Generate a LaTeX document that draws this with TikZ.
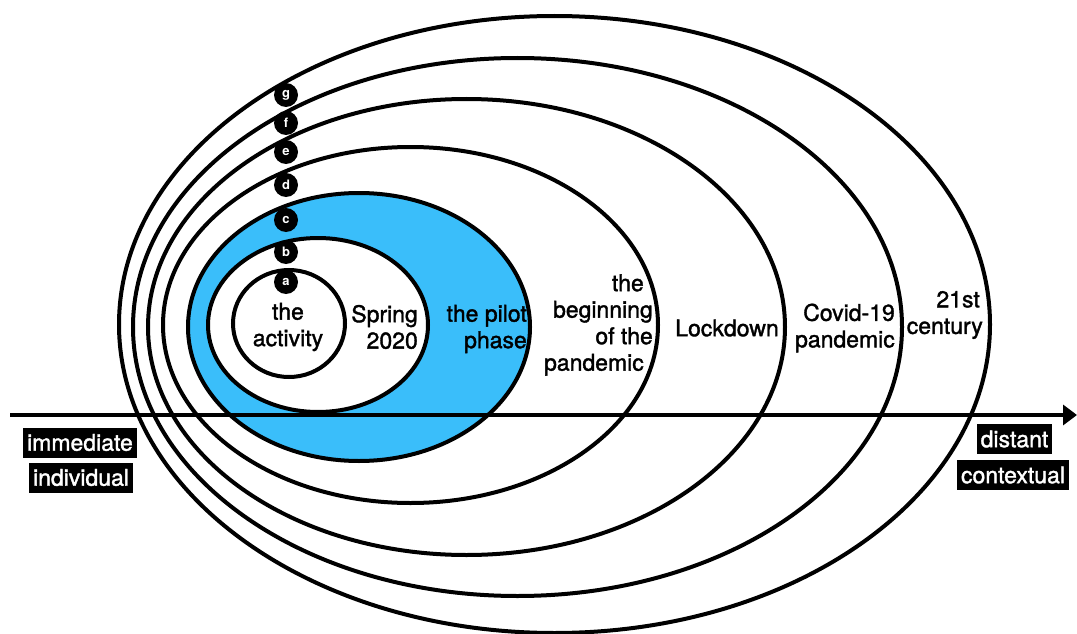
\documentclass[tikz,border=0pt]{standalone}
\usepackage{fontspec}
\setmainfont{TeX Gyre Heros}
\newfontfamily\medfont{TeX Gyre Heros}[FakeBold=1.5]
\usetikzlibrary{shapes.geometric,arrows.meta}
\definecolor{pilotblue}{RGB}{58,190,250}
\begin{document}
\begin{tikzpicture}[x=1pt,y=-1pt,
  ring/.style={draw, line width=4pt, ellipse, inner sep=0pt},
  badge/.style={circle, fill=black, text=white, minimum size=24pt, inner sep=0pt, font=\fontsize{13}{13}\selectfont\bfseries},
  lbl/.style={font=\medfont\fontsize{23}{26.5}\selectfont, inner sep=0pt},
  tag/.style={fill=black, text=white, font=\medfont\fontsize{23}{26.5}\selectfont, inner xsep=4pt, inner ysep=0pt, minimum height=30pt}]
\useasboundingbox (0,0) rectangle (1077,634);
% rings
\node[ring, minimum width=871pt, minimum height=617pt] (eg) at (554.5,324.5) {};
\node[ring, minimum width=769pt, minimum height=538pt] (ef) at (517.5,327) {};
\node[ring, minimum width=637pt, minimum height=456pt] (ee) at (466.5,327) {};
\node[ring, minimum width=495pt, minimum height=356pt] (ed) at (410.5,325) {};
\node[ring, fill=pilotblue, minimum width=342pt, minimum height=268pt] (ec) at (359,327) {};
\node[ring, fill=white, minimum width=220pt, minimum height=174pt] (eb) at (318,325) {};
\node[ring, minimum width=112pt, minimum height=107pt] (ea) at (289,323.5) {};
% axis
\coordinate (axL) at (10,415);
\coordinate (axR) at (1077,415);
\draw[line width=4pt, -{Triangle[length=14pt,width=20pt]}] (axL) -- (axR);
% labels
\node[lbl, align=center] (tact) at (288,327) {the\\activity};
\node[lbl, align=right, anchor=east] (tspr) at (418,327) {Spring\\2020};
\node[lbl, align=right, anchor=east] (tpil) at (527,329) {the pilot\\phase};
\node[lbl, align=right, anchor=east] (tbeg) at (653,325) {the\kern9pt\\beginning\\of the\\pandemic\kern9pt};
\node[lbl] (tlock) at (727,328) {Lockdown};
\node[lbl, align=right, anchor=east] (tcov) at (895,328) {Covid-19\\pandemic};
\node[lbl, align=right, anchor=east] (tcen) at (983,315) {21st\kern3pt\\century};
% tags
\node[tag] (timm) at (80,442.5) {immediate};
\node[tag] (tind) at (81,477.5) {individual};
\node[tag] (tdis) at (1014.5,439) {distant};
\node[tag] (tcon) at (1013,475) {contextual};
% badges
\node[badge] (bg) at (286,95) {g};
\node[badge] (bf) at (286,123) {f};
\node[badge] (be) at (286,152) {e};
\node[badge] (bd) at (286,185) {d};
\node[badge] (bc) at (286,220) {c};
\node[badge] (bb) at (286,252) {b};
\node[badge] (ba) at (286,282) {a};
\end{tikzpicture}
\end{document}
